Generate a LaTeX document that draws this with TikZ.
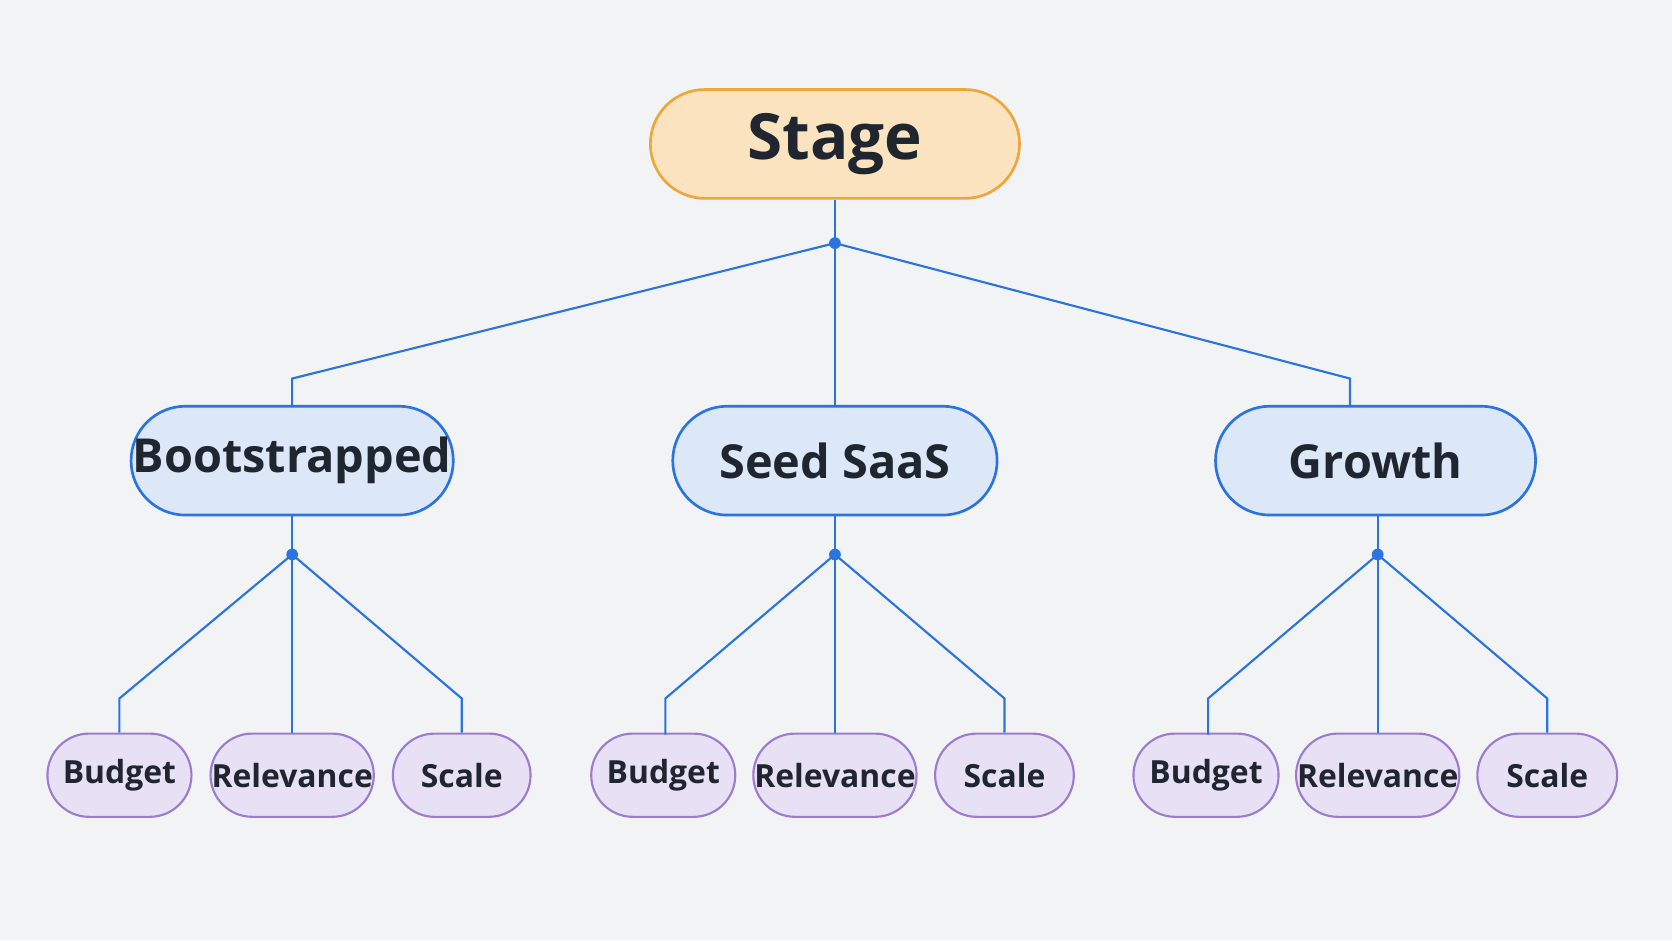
\documentclass[tikz,border=0pt]{standalone}
\usepackage{fontspec}
\setmainfont{Open Sans}
\definecolor{bgcol}{HTML}{F2F3F4}
\definecolor{stagefill}{HTML}{FCE3C0}
\definecolor{stageline}{HTML}{EEA63A}
\definecolor{midfill}{HTML}{DCE8F8}
\definecolor{midline}{HTML}{2B74E0}
\definecolor{leaffill}{HTML}{E8E1F5}
\definecolor{leafline}{HTML}{9C7BD0}
\definecolor{txt}{HTML}{1F2630}
\tikzset{
  stage/.style={draw=stageline, fill=stagefill, line width=0.25mm, rounded corners=0.51cm, minimum width=3.46cm, minimum height=1.02cm, inner sep=0pt, text=txt, font=\fontsize{17}{20}\selectfont\bfseries},
  mid/.style={draw=midline, fill=midfill, line width=0.25mm, rounded corners=0.51cm, minimum height=1.02cm, inner sep=0pt, text=txt, font=\fontsize{12.5}{15}\selectfont\bfseries},
  leaf/.style={draw=leafline, fill=leaffill, line width=0.2mm, rounded corners=0.39cm, minimum height=0.78cm, inner sep=0pt, text=txt, font=\fontsize{8.5}{10}\selectfont\bfseries},
  link/.style={draw=midline, line width=0.2mm},
  dot/.style={circle, fill=midline, inner sep=0pt, minimum size=0.11cm}
}
\begin{document}
\begin{tikzpicture}[x=0.01cm, y=-0.01cm]
\fill[bgcol] (0,0) rectangle (1568,882);

% nodi
\node[stage] (stage) at (783,135) {Stage};
\node[mid, minimum width=3.02cm] (boot) at (274,432) {Bootstrapped};
\node[mid, minimum width=3.04cm] (seed) at (783,432) {Seed SaaS};
\node[mid, minimum width=3.00cm] (grow) at (1290,432) {Growth};

\node[leaf, minimum width=1.35cm] (bb) at (112,727) {Budget};
\node[leaf, minimum width=1.53cm] (br) at (274,727) {Relevance};
\node[leaf, minimum width=1.29cm] (bs) at (433,727) {Scale};
\node[leaf, minimum width=1.35cm] (sb) at (622,727) {Budget};
\node[leaf, minimum width=1.53cm] (sr) at (783,727) {Relevance};
\node[leaf, minimum width=1.30cm] (ss) at (942,727) {Scale};
\node[leaf, minimum width=1.36cm] (gb) at (1131,727) {Budget};
\node[leaf, minimum width=1.53cm] (gr) at (1292,727) {Relevance};
\node[leaf, minimum width=1.31cm] (gs) at (1451,727) {Scale};

% snodi
\coordinate (j0) at (783,228);
\coordinate (j1) at (274,520);
\coordinate (j2) at (783,520);
\coordinate (j3) at (1292,520);

% collegamenti
\draw[link] (stage) -- (j0);
\draw[link] (j0) -- (274,355) -- (boot.north);
\draw[link] (j0) -- (seed);
\draw[link] (j0) -- (1266,355) -- (1266,381);

\draw[link] (boot) -- (j1);
\draw[link] (j1) -- (112,655) -- (bb);
\draw[link] (j1) -- (br);
\draw[link] (j1) -- (433,655) -- (bs);

\draw[link] (seed) -- (j2);
\draw[link] (j2) -- (624,655) -- (624,689);
\draw[link] (j2) -- (sr);
\draw[link] (j2) -- (942,655) -- (ss);

\draw[link] (grow.south -| j3) -- (j3);
\draw[link] (j3) -- (1133,655) -- (1133,689);
\draw[link] (j3) -- (gr);
\draw[link] (j3) -- (1451,655) -- (gs);

\foreach \j in {j0,j1,j2,j3} \node[dot] at (\j) {};
\end{tikzpicture}
\end{document}
